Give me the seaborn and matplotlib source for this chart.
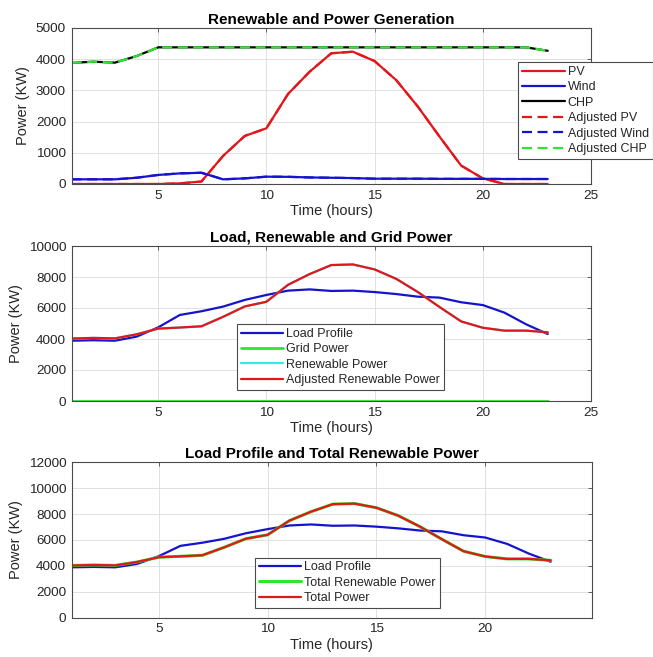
import numpy as np
import pandas as pd
import matplotlib
matplotlib.use("Agg")
import matplotlib.pyplot as plt
import seaborn as sns

# Hourly generation and demand profile (kW)
hours = list(range(1, 24))
pv = [0, 0, 0, 0, 0, 20, 80, 900, 1540, 1785, 2885, 3600, 4190, 4240,
      3940, 3330, 2480, 1520, 590, 180, 0, 0, 0]
wind = [150, 150, 150, 200, 290, 340, 360, 150, 180, 235, 230, 210, 200, 190,
        170, 170, 170, 165, 165, 165, 160, 160, 160]
chp = [3880, 3920, 3890, 4100, 4380, 4380, 4380, 4380, 4380, 4380, 4380, 4380,
       4380, 4380, 4380, 4380, 4380, 4380, 4380, 4380, 4380, 4380, 4270]
load = [3890, 3920, 3890, 4150, 4750, 5550, 5790, 6090, 6520, 6840, 7120, 7200,
        7100, 7120, 7030, 6900, 6730, 6670, 6370, 6190, 5700, 4950, 4320]
renewable_total = [4030, 4070, 4040, 4300, 4670, 4740, 4820, 5430, 6100, 6400,
                   7495, 8190, 8770, 8810, 8490, 7880, 7030, 6065, 5135, 4725,
                   4540, 4540, 4430]
grid = [0] * 23

df = pd.DataFrame({
    "hour": hours, "pv": pv, "wind": wind, "chp": chp, "load": load,
    "renew": renewable_total, "grid": grid,
})

sns.set_style("whitegrid")
plt.rcParams["font.family"] = ["Liberation Sans", "DejaVu Sans"]

RED = "#e3161b"
BLUE = "#1414cc"
GREEN = "#2ee62e"
CYAN = "#3ae6e6"
BLACK = "#000000"
EDGE = "#4a4a4a"
LW = 1.6
DASH = (0, (4.5, 2.5))

W, H = 653, 657
fig = plt.figure(figsize=(W / 100, H / 100), dpi=100)


def px_axes(left, top, right, bottom):
    return fig.add_axes([left / W, 1 - bottom / H, (right - left) / W, (bottom - top) / H])


def style(ax, title, xlim, xticks, ylim, yticks):
    ax.set_xlim(*xlim)
    ax.set_ylim(*ylim)
    ax.set_xticks(xticks)
    ax.set_yticks(yticks)
    ax.set_title(title, fontsize=11, fontweight="bold", pad=3, color="black")
    ax.set_xlabel("Time (hours)", fontsize=10.5, labelpad=2, color="#262626")
    ax.set_ylabel("Power (KW)", fontsize=10.5, labelpad=4, color="#262626")
    ax.tick_params(direction="in", length=3, width=0.6, top=True, right=True,
                   labelsize=9.7, pad=4, colors=EDGE, labelcolor="#262626")
    ax.grid(True, color="#dcdcdc", linewidth=0.6)
    for sp in ax.spines.values():
        sp.set_color(EDGE)
        sp.set_linewidth(0.8)
        sp.set_visible(True)
    ax.set_facecolor("white")


def add_legend(ax, x, y):
    leg = ax.legend(loc="upper left", bbox_to_anchor=(x / W, 1 - y / H),
                    bbox_transform=fig.transFigure, borderaxespad=0,
                    fontsize=9, frameon=True, fancybox=False, shadow=False,
                    handlelength=3.4, handletextpad=0.25, labelspacing=0.27,
                    borderpad=0.3)
    fr = leg.get_frame()
    fr.set_edgecolor(EDGE)
    fr.set_linewidth(0.8)
    fr.set_alpha(1)
    return leg


# Panel 1: generation by source
ax1 = px_axes(71.6, 28, 591, 184)
sns.lineplot(data=df, x="hour", y="pv", ax=ax1, color=RED, lw=LW, label="PV")
sns.lineplot(data=df, x="hour", y="wind", ax=ax1, color=BLUE, lw=LW, label="Wind")
sns.lineplot(data=df, x="hour", y="chp", ax=ax1, color=BLACK, lw=LW, label="CHP")
sns.lineplot(data=df, x="hour", y="pv", ax=ax1, color=RED, lw=LW, linestyle=DASH, label="Adjusted PV")
sns.lineplot(data=df, x="hour", y="wind", ax=ax1, color=BLUE, lw=LW, linestyle=DASH, label="Adjusted Wind")
sns.lineplot(data=df, x="hour", y="chp", ax=ax1, color=GREEN, lw=LW, linestyle=DASH, label="Adjusted CHP")
style(ax1, "Renewable and Power Generation", (1, 25), [5, 10, 15, 20, 25],
      (0, 5000), [0, 1000, 2000, 3000, 4000, 5000])
add_legend(ax1, 518.3, 62.3)

# Panel 2: load, grid and renewable supply
ax2 = px_axes(71.6, 246, 591, 401)
sns.lineplot(data=df, x="hour", y="load", ax=ax2, color=BLUE, lw=LW, label="Load Profile")
sns.lineplot(data=df, x="hour", y="grid", ax=ax2, color=GREEN, lw=LW + 0.4, label="Grid Power")
sns.lineplot(data=df, x="hour", y="renew", ax=ax2, color=CYAN, lw=LW, label="Renewable Power")
sns.lineplot(data=df, x="hour", y="renew", ax=ax2, color=RED, lw=LW, label="Adjusted Renewable Power")
style(ax2, "Load, Renewable and Grid Power", (1, 25), [5, 10, 15, 20, 25],
      (0, 10000), [0, 2000, 4000, 6000, 8000, 10000])
add_legend(ax2, 237, 324.3)

# Panel 3: load versus total supply
ax3 = px_axes(71.7, 462.3, 592, 617.7)
sns.lineplot(data=df, x="hour", y="load", ax=ax3, color=BLUE, lw=LW, label="Load Profile")
sns.lineplot(data=df, x="hour", y="renew", ax=ax3, color=GREEN, lw=LW + 0.6, label="Total Renewable Power")
sns.lineplot(data=df, x="hour", y="renew", ax=ax3, color=RED, lw=LW, label="Total Power")
style(ax3, "Load Profile and Total Renewable Power", (1, 24.9), [5, 10, 15, 20],
      (0, 12000), [0, 2000, 4000, 6000, 8000, 10000, 12000])
add_legend(ax3, 255, 557.7)

fig.savefig("out.png", dpi=100, facecolor="white")
